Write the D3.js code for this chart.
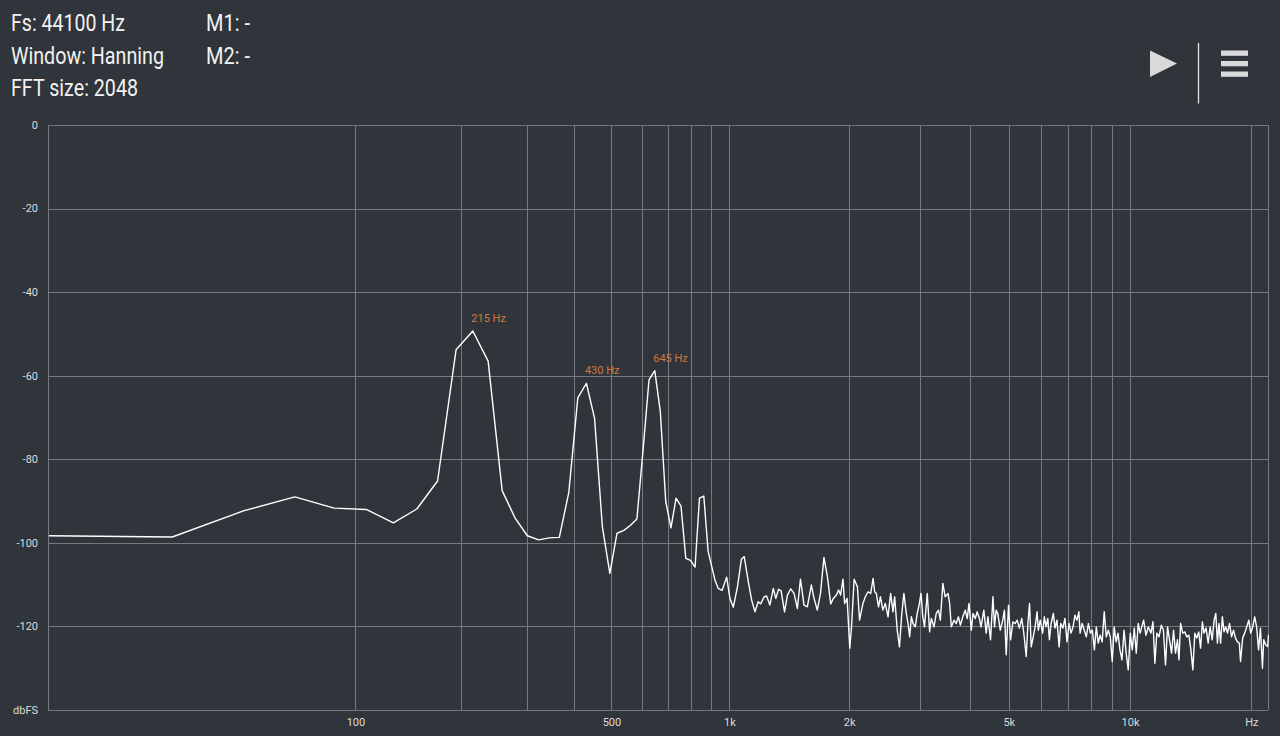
<!DOCTYPE html>
<html><head><meta charset="utf-8">
<script src="https://cdn.jsdelivr.net/npm/d3@7"></script>
<style>
html,body{margin:0;padding:0;background:#30343b;overflow:hidden}
svg{display:block}
text{font-family:Roboto,"Noto Sans",sans-serif}
</style></head><body>
<svg id="chart" width="1280" height="736"></svg>
<script>
// ---------- data ----------
const sampleRate = 44100;
const fftSize = 2048;
const headerLeft = ["Fs: 44100 Hz", "Window: Hanning", "FFT size: 2048"];
const headerRight = ["M1: -", "M2: -"];
const yTicks = [0, -20, -40, -60, -80, -100, -120];
const yUnit = "dbFS";
const xGridHz = [100,200,300,400,500,600,700,800,900,1000,2000,3000,4000,5000,6000,7000,8000,9000,10000,20000];
const xTickHz = [100, 500, 1000, 2000, 5000, 10000, 20000];
const xTickLabels = ["100", "500", "1k", "2k", "5k", "10k", "Hz"];
const peakHz = [215.3, 430.7, 646];
const peakLabels = ["215 Hz", "430 Hz", "645 Hz"];

const freqHz = [
0,21.5,43.1,64.6,86.1,107.7,129.2,150.7,172.3,193.8,215.3,236.9,258.4,279.9,301.5,323,344.5,366.1,387.6,409.1,
430.7,452.2,473.7,495.3,516.8,538.3,559.9,581.4,602.9,624.5,646,667.5,689.1,710.6,732.1,753.7,775.2,796.7,818.3,839.8,
861.3,882.9,
919,937,958,984,1003,1023,1048,1072,1090,1116,1138,1160,1182,1199,1224,1241,1265,1290,1309,1330,1350,1377,1400,1427,
1455,1483,1510,1541,1571,1608,1633,1664,1695,1729,1764,1798,1826,1858,1882,1903,1930,1948,1976,2007,2027,2058,2097,2123,
2165,2195,2230,2264,2295,2316,2338,2368,2394,2428,2462,2501,2539,2574,2598,2637,2671,2707,2740,2778,2806,2832,2860,2888,
2925,2958,2995,3023,3054,3084,3133,3176,3207,3257,3299,3341,3378,3426,3473,3529,3562,3597,3652,3700,3747,3789,3842,3895,
3941,3980,4034,4073,4126,4172,4225,4264,4334,4393,4437,4504,4566,4607,4651,4694,4762,4829,4876,4926,4992,5050,5120,5187,
5246,5313,5385,5449,5524,5578,5630,5685,5750,5814,5879,5921,5985,6069,6127,6189,6250,6308,6370,6453,6514,6586,6669,6731,
6813,6894,6976,7058,7139,7221,7302,7384,7465,7518,7607,7699,7790,7882,7974,8065,8157,8249,8340,8431,8529,8630,8731,8832,
8934,9035,9136,9237,9338,9440,9551,9667,9783,9899,10015,10131,10247,10364,10480,10596,10809,10955,11101,11272,11400,11527,
11654,11800,11958,12103,12247,12391,12535,12680,12824,12968,13112,13227,13350,13512,13673,13835,13996,14158,14319,14481,
14642,14804,14965,15119,15263,15444,15625,15806,15987,16168,16322,16475,16620,16774,16946,17108,17280,17452,17655,17857,
18059,18262,18464,18667,18798,19024,19250,19476,19702,19928,20154,20380,20606,20833,21059,21301,21458,21700,21942,22050
];
const levelDb = [
-98.3,-98.6,-92.3,-89.0,-91.7,-92.0,-95.2,-91.9,-85.2,-53.8,-49.3,-56.5,-87.5,-94.1,-98.3,-99.3,-98.8,-98.7,-87.9,-65.3,
-61.8,-70.2,-96.1,-107.3,-97.7,-97.0,-95.8,-94.3,-77.8,-61.0,-58.8,-68.6,-90.1,-96.4,-89.3,-91.2,-103.7,-104.2,-105.8,-89.3,
-88.8,-101.9,
-108.9,-110.9,-111.4,-108.2,-113.3,-115.4,-110.5,-103.9,-103.3,-109.3,-113.7,-116.5,-114.1,-114.6,-112.9,-112.7,-114.9,-110.9,-113.3,-111.1,-111.5,-116.5,-112.5,-111.0,
-112.1,-115.7,-108.7,-114.9,-115.3,-110.1,-113.3,-116.1,-112.1,-103.5,-108.1,-114.6,-113.3,-112.5,-111.3,-112.5,-108.7,-114.5,-113.3,-125.2,-120.1,-108.7,-110.5,-118.5,
-114.5,-112.9,-111.7,-112.1,-108.5,-111.7,-112.1,-115.3,-112.9,-116.1,-114.5,-117.7,-112.1,-116.5,-112.9,-120.9,-124.9,-116.9,-112.1,-116.9,-119.3,-122.5,-117.7,-119.3,
-120.1,-116.9,-114.5,-112.1,-117.7,-120.1,-112.1,-121.3,-118.1,-120.1,-116.9,-116.1,-118.5,-109.7,-112.9,-112.1,-114.5,-120.1,-118.5,-119.3,-117.7,-119.7,-117.7,-116.1,
-118.1,-114.5,-120.9,-116.9,-118.1,-116.5,-118.1,-120.1,-116.1,-121.6,-117.7,-123.2,-112.9,-120.1,-116.1,-116.9,-120.9,-118.5,-116.1,-126.8,-114.9,-123.2,-118.9,-119.3,
-118.5,-120.4,-118.1,-121.6,-127.2,-119.3,-114.5,-124.9,-122.5,-120.1,-116.5,-120.9,-118.5,-121.6,-117.7,-120.1,-118.1,-123.2,-119.3,-116.9,-120.4,-118.5,-124.9,-119.3,
-120.4,-118.1,-123.7,-119.3,-121.6,-120.1,-117.3,-118.5,-116.5,-121.6,-119.3,-120.9,-122.5,-119.3,-121.6,-120.9,-125.6,-120.1,-124.0,-122.1,-123.7,-116.5,-122.5,-120.9,
-122.5,-128.4,-120.1,-123.7,-121.6,-125.6,-128.0,-120.9,-126.4,-130.4,-121.6,-125.6,-120.4,-126.4,-119.3,-121.6,-118.5,-122.1,-120.1,-121.6,-118.9,-128.8,
-121.6,-122.5,-119.7,-120.9,-129.2,-120.1,-123.2,-126.4,-120.9,-126.4,-123.2,-128.0,-119.3,-121.6,-121.3,-122.5,-122.1,-125.6,-130.4,-121.6,
-122.8,-121.3,-125.2,-118.9,-121.6,-120.4,-124.0,-120.1,-123.2,-118.5,-116.9,-124.0,-119.3,-124.0,-117.7,-121.3,-120.1,-121.6,-119.3,-122.5,
-120.9,-122.8,-123.7,-124.0,-128.4,-122.8,-121.6,-120.1,-118.5,-121.6,-120.1,-117.7,-120.1,-125.6,-120.4,-130.0,-123.2,-124.4,-124.8,-122.0
];

// ---------- layout ----------
const plotLeft = 48, plotRight = 1268, plotTop = 125, plotBottom = 710;
const svg = d3.select("#chart");
svg.append("rect").attr("width", 1280).attr("height", 736).attr("fill", "#30343b");

const x = d3.scaleSymlog()
  .constant(0.98 * sampleRate / fftSize)
  .domain([0, sampleRate / 2])
  .range([49, 1268.5]);
const y = d3.scaleLinear().domain([0, -140]).range([plotTop, plotBottom]);

const gridColor = "#767a80";
const grid = svg.append("g").attr("shape-rendering", "crispEdges");
grid.selectAll("line.h").data(d3.range(0, -141, -20)).join("line")
  .attr("x1", plotLeft).attr("x2", plotRight)
  .attr("y1", d => Math.round(y(d)) + 0.5).attr("y2", d => Math.round(y(d)) + 0.5)
  .attr("stroke", gridColor).attr("stroke-width", 1);
grid.selectAll("line.v").data(xGridHz).join("line")
  .attr("x1", d => Math.round(x(d)) + 0.5).attr("x2", d => Math.round(x(d)) + 0.5)
  .attr("y1", plotTop).attr("y2", plotBottom)
  .attr("stroke", gridColor).attr("stroke-width", 1);
grid.selectAll("line.f").data([plotLeft, plotRight]).join("line")
  .attr("x1", d => d + 0.5).attr("x2", d => d + 0.5)
  .attr("y1", plotTop).attr("y2", plotBottom)
  .attr("stroke", gridColor).attr("stroke-width", 1);

// y labels
svg.append("g").selectAll("text").data(yTicks).join("text")
  .attr("x", 38).attr("y", d => y(d)).attr("dy", "0.35em")
  .attr("text-anchor", "end").attr("font-size", 11).attr("fill", "#dcdcdc")
  .text(d => d);
svg.append("text").attr("x", 38).attr("y", plotBottom).attr("dy", "0.35em")
  .attr("text-anchor", "end").attr("font-size", 11).attr("fill", "#dcdcdc").text(yUnit);

// x labels
svg.append("g").selectAll("text").data(xTickHz).join("text")
  .attr("x", d => x(d) + 0.5).attr("y", 726)
  .attr("text-anchor", "middle").attr("font-size", 11).attr("fill", "#dcdcdc")
  .text((d, i) => xTickLabels[i]);

// spectrum line
svg.append("clipPath").attr("id", "plotclip").append("rect")
  .attr("x", plotLeft).attr("y", 0).attr("width", plotRight - plotLeft + 1).attr("height", 736);
const pts = freqHz.map((f, i) => [f, levelDb[i]]);
const line = d3.line().x(d => x(d[0])).y(d => y(d[1]));
svg.append("path").datum(pts).attr("d", line).attr("clip-path", "url(#plotclip)")
  .attr("fill", "none").attr("stroke", "#ffffff").attr("stroke-width", 1.4)
  .attr("stroke-linejoin", "round");

// peak labels
svg.append("g").selectAll("text").data(peakHz).join("text")
  .attr("x", d => x(d) - 1.5)
  .attr("y", d => y(levelDb[freqHz.indexOf(d)]) - 9)
  .attr("font-size", 11).attr("fill", "#d4783c")
  .text((d, i) => peakLabels[i]);

// header
const hdrWidthsL = [114, 153, 127];
const hdrBase = [31, 64, 96];
svg.append("g").selectAll("text").data(headerLeft).join("text")
  .attr("x", 11).attr("y", (d, i) => hdrBase[i])
  .attr("font-size", 23).attr("fill", "#f2f2f2")
  .attr("textLength", (d, i) => hdrWidthsL[i]).attr("lengthAdjust", "spacingAndGlyphs")
  .text(d => d);
svg.append("g").selectAll("text").data(headerRight).join("text")
  .attr("x", 206).attr("y", (d, i) => hdrBase[i])
  .attr("font-size", 23).attr("fill", "#f2f2f2")
  .attr("textLength", 44).attr("lengthAdjust", "spacingAndGlyphs")
  .text(d => d);

// icons
const iconColor = "#d9d9d9";
svg.append("path").attr("d", "M1150,50.5 L1177,63.5 L1150,77 Z").attr("fill", iconColor);
svg.append("line").attr("x1", 1198.5).attr("x2", 1198.5).attr("y1", 43).attr("y2", 103.5)
  .attr("stroke", "#e6e6e6").attr("stroke-width", 1.3);
svg.append("g").selectAll("rect").data([50.5, 61, 71.5]).join("rect")
  .attr("x", 1221).attr("y", d => d).attr("width", 27).attr("height", 5.3).attr("fill", iconColor);
</script>
</body></html>
